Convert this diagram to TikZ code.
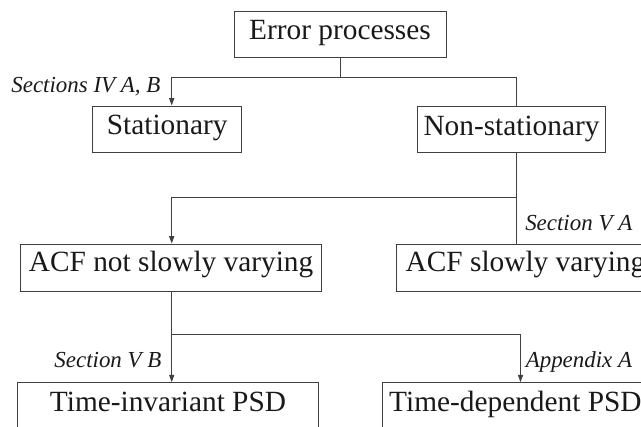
\documentclass[tikz,border=0pt]{standalone}
\usepackage{fontspec}
\setmainfont{Liberation Serif}
\usetikzlibrary{arrows.meta}
\begin{document}
\begin{tikzpicture}[x=0.75pt, y=-0.75pt,
  box/.style={draw=black!75, line width=0.7pt, inner sep=0pt,
    text=black!90, font=\fontsize{22}{26}\selectfont,
    text height=0.75em, text depth=0.2em},
  lowtext/.style={text height=0.92em, text depth=0.03em},
  midtext/.style={text height=0.85em, text depth=0.1em},
  tag/.style={inner sep=0pt, text=black!90,
    font=\fontsize{17.2}{20}\selectfont\itshape},
  link/.style={draw=black!75, line width=0.7pt},
  arr/.style={link, -{Triangle[length=5.5pt, width=3.8pt]}}]
  \useasboundingbox (0,0) rectangle (641,426);
  \clip (0,0) rectangle (641,426);

  % boxes
  \node[box, midtext, minimum width=212*0.75pt, minimum height=46*0.75pt] (err) at (340,34.3) {Error processes};
  \node[box, lowtext, minimum width=149*0.75pt, minimum height=46*0.75pt] (stat) at (167.2,129) {Stationary};
  \node[box, lowtext, minimum width=188*0.75pt, minimum height=46*0.75pt] (nonstat) at (511.5,129.2) {Non-stationary};
  \node[box, minimum width=301.5*0.75pt, minimum height=47*0.75pt] (acfn) at (171.1,267.5) {ACF not slowly varying};
  \node[box, minimum width=258.5*0.75pt, minimum height=47.5*0.75pt] (acfs) at (525.5,268) {ACF slowly varying};
  \node[box, minimum width=301.7*0.75pt, minimum height=50*0.75pt] (tinv) at (168,407.7) {Time-invariant PSD};
  \node[box, minimum width=265.3*0.75pt, minimum height=50*0.75pt] (tdep) at (515.4,407.7) {Time-dependent PSD};

  % junction points of the tree
  \coordinate (j1) at (340,77);
  \coordinate (jl1) at (171.7,77);
  \coordinate (jr1) at (516,77);
  \coordinate (jl2) at (171.7,197.3);
  \coordinate (jr2) at (516,197.3);
  \coordinate (jl3) at (171.7,334.3);
  \coordinate (jr3) at (520.5,334.3);

  % connectors
  \draw[link] (err.south) -- (j1);
  \draw[link] (jl1) -- (jr1) -- (nonstat.north -| jr1);
  \draw[arr] (jl1) -- (stat.north -| jl1);
  \draw[link] (nonstat.south -| jr2) -- (jr2) -- (acfs.north -| jr2);
  \draw[link] (jr2) -- (jl2);
  \draw[arr] (jl2) -- (acfn.north -| jl2);
  \draw[arr] (acfn.south -| jl3) -- (tinv.north -| jl3);
  \draw[link] (jl3) -- (jr3);
  \draw[arr] (jr3) -- (tdep.north -| jr3);

  % section references
  \node[tag, anchor=base east] (t1) at (160.7,92) {Sections IV A, B};
  \node[tag, anchor=base west] (t2) at (525,230.7) {Section V A};
  \node[tag, anchor=base east] (t3) at (161.7,367.7) {Section V B};
  \node[tag, anchor=base west] (t4) at (525.5,367.7) {Appendix A};
\end{tikzpicture}
\end{document}
